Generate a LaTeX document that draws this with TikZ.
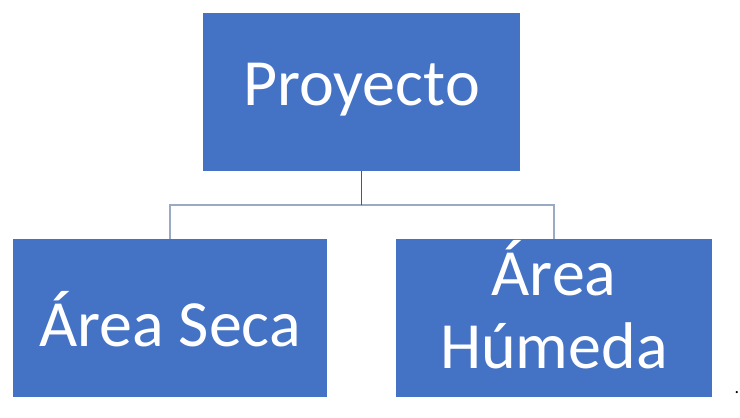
\documentclass[tikz,border=0pt]{standalone}
\usepackage{fontspec}
\setmainfont{Carlito}
\definecolor{boxblue}{HTML}{4472C4}
\definecolor{darkline}{HTML}{3A5A8C}
\definecolor{lightline}{HTML}{9AAAC4}
\begin{document}
\begin{tikzpicture}[x=1pt,y=-1pt,
  orgbox/.style={fill=boxblue, draw=none, inner sep=0pt},
  boxtext/.style={text=white, inner sep=0pt, align=center,
    font=\fontsize{66}{73}\selectfont},
  darkconn/.style={draw=darkline, line width=1pt},
  lightconn/.style={draw=lightline, line width=1.2pt}]
\useasboundingbox (0,0) rectangle (740,418);
\node[orgbox, minimum width=317pt, minimum height=158pt] (top) at (361.5,92) {};
\node[orgbox, minimum width=314pt, minimum height=158pt] (left) at (170,318) {};
\node[orgbox, minimum width=316pt, minimum height=158pt] (right) at (554,318) {};
\node[boxtext] (toplabel) at ([yshift=2pt]top.center) {Proyecto};
\node[boxtext] (leftlabel) at ([yshift=-1pt]left.center) {Área Seca};
\node[boxtext] (rightlabel) at ([yshift=13pt]right.center) {Área\\Húmeda};
\coordinate (j) at (361.5,205);
\draw[lightconn] (left.north) |- (j) -| (right.north);
\draw[darkconn] (top.south) -- (j);
\node[font=\fontsize{18}{18}\selectfont, text=black, inner sep=0pt, anchor=base] (dot) at (737,393) {.};
\end{tikzpicture}
\end{document}
